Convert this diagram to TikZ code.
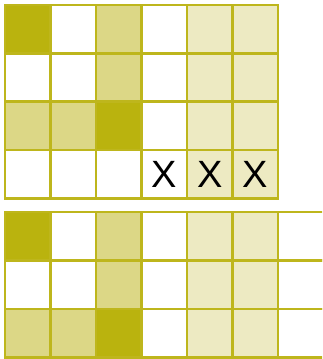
\documentclass[tikz,border=0pt]{standalone}
\usepackage{fontspec}
\setmainfont{Liberation Sans}

\definecolor{od}{RGB}{186,179,14}
\definecolor{om}{RGB}{220,215,134}
\definecolor{ol}{RGB}{237,234,194}
\definecolor{gridline}{RGB}{190,182,28}

\begin{document}
\begin{tikzpicture}[
  x=1pt, y=-1pt,
  cell/.style={rectangle, draw=gridline, line width=2.6pt, minimum width=45.5pt, minimum height=48.4pt, inner sep=0pt, outer sep=0pt, anchor=west},
  mark label/.style={font=\fontsize{38}{40}\selectfont, inner sep=0pt}
]
\useasboundingbox (0,0) rectangle (322,359);
\clip (0,0) rectangle (322,359);

% Top grid
\foreach \r/\row in {1/{od,white,om,white,ol,ol},
                      2/{white,white,om,white,ol,ol},
                      3/{om,om,od,white,ol,ol},
                      4/{white,white,white,white,ol,ol}}
  \foreach \f [count=\c] in \row
    \node[cell, fill=\f] (t-\r-\c) at ({5+45.5*(\c-1)}, {5+48.3*(\r-0.5)}) {};

% Marks in the last row
\node[mark label] (x1) at (t-4-4.center) {X};
\node[mark label] (x2) at (t-4-5.center) {X};
\node[mark label] (x3) at (t-4-6.center) {X};

% Bottom grid (last column runs off the edge)
\foreach \r/\row in {1/{od,white,om,white,ol,ol,white},
                      2/{white,white,om,white,ol,ol,white},
                      3/{om,om,od,white,ol,ol,white}}
  \foreach \f [count=\c] in \row
    \node[cell, fill=\f, minimum width={\c==7 ? 70 : 45.5}] (b-\r-\c) at ({5+45.5*(\c-1)}, {211.7+48.6*(\r-0.5)}) {};
\end{tikzpicture}
\end{document}
